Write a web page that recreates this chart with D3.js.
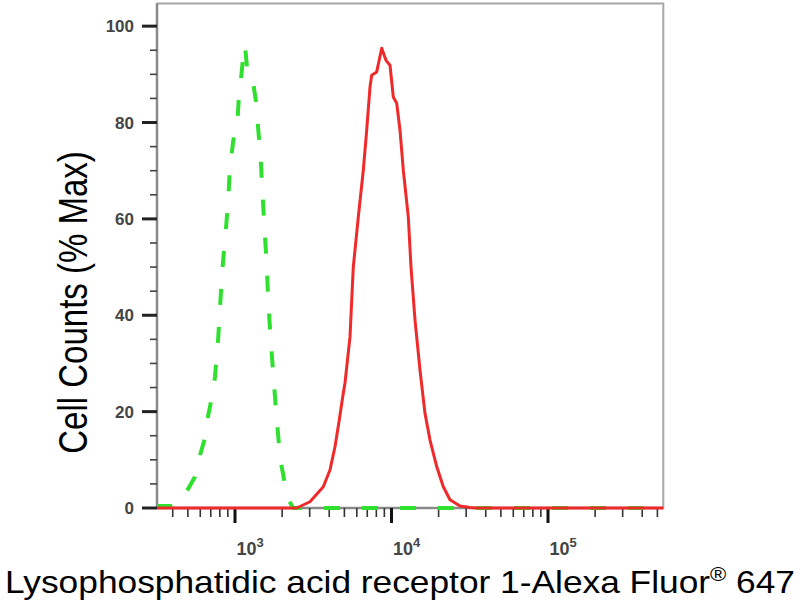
<!DOCTYPE html>
<html>
<head>
<meta charset="utf-8">
<script src="https://cdn.jsdelivr.net/npm/d3@7/dist/d3.min.js"></script>
<style>
  html, body { margin: 0; padding: 0; background: #fff; }
  svg { display: block; }
  text { font-family: "Liberation Sans", Arial, sans-serif; }
</style>
</head>
<body>
<svg id="chart" width="800" height="600"></svg>
<script>
// ---- data ----
const greenX = [320, 394, 445, 491, 555, 598, 643, 675, 710, 745, 782, 822, 842, 863, 906, 920, 939, 975, 1034, 1056, 1087, 1120, 1158, 1198, 1247, 1303, 1362, 1388, 1430, 1459, 1503, 1555, 1594, 1632, 1716, 1801, 1847, 1891, 1939, 2035, 2140, 2358, 545000];
const greenY = [0.4, 0.4, 1.2, 3.4, 6.5, 11, 14.5, 19.3, 22.8, 27.2, 35.5, 47.3, 51.8, 55.6, 63.9, 68.4, 71.8, 76.3, 79.8, 84.6, 88.4, 92.6, 96, 90.9, 88.8, 88.5, 84.3, 80.9, 76, 72.5, 64.6, 56.3, 50.8, 42.5, 32.1, 23.1, 18.3, 14.8, 10.3, 6.8, 2.3, 0, 0];

const redX = [318, 2479, 3014, 3666, 4046, 4355, 4640, 4879, 5047, 5429, 5700, 6137, 6604, 6943, 7289, 7474, 8043, 8658, 9223, 9782, 10268, 10794, 11333, 11898, 12804, 13324, 14134, 15211, 16375, 17620, 19448, 21428, 23645, 27400, 31740, 35180, 545000];
const redY = [0, 0, 1.3, 4.4, 7.9, 12.7, 18.3, 23.1, 26, 35.5, 50, 60.4, 70.1, 78.4, 87.4, 89.8, 90.5, 95.4, 92.9, 91.9, 85.3, 84, 78.4, 70.1, 60.4, 50, 39, 28.6, 19.6, 14.1, 8.6, 4.4, 1.7, 0.4, 0.1, 0, 0];

const yMajorTicks = [0, 20, 40, 60, 80, 100];
const yMinorTicks = [5, 10, 15, 25, 30, 35, 45, 50, 55, 65, 70, 75, 85, 90, 95];
const xMajorTicks = [1e3, 1e4, 1e5];
const xMajorExp = ["3", "4", "5"];
const xMinorTicks = [400, 500, 600, 700, 800, 900,
                     2000, 3000, 4000, 5000, 6000, 7000, 8000, 9000,
                     20000, 30000, 40000, 50000, 60000, 70000, 80000, 90000,
                     200000, 300000, 400000, 500000];
const xTitle = "Lysophosphatidic acid receptor 1-Alexa Fluor";
const xTitleTail = " 647";
const yTitle = "Cell Counts (% Max)";

// ---- layout ----
const L = 157, R = 663.3, T = 3.5, B = 508;
const svg = d3.select("#chart");

const x = d3.scaleLog().domain([317.4, 545400]).range([L, R]);
const y = d3.scaleLinear().domain([0, 104.7]).range([B, T]);

// frame
svg.append("rect")
  .attr("x", L).attr("y", T).attr("width", R - L).attr("height", B - T)
  .attr("fill", "none").attr("stroke", "#a8a8a8").attr("stroke-width", 2);

// left & bottom axis lines
svg.append("line").attr("x1", L).attr("x2", L).attr("y1", T).attr("y2", B + 1)
  .attr("stroke", "#8a8a8a").attr("stroke-width", 2.5);
svg.append("line").attr("x1", L).attr("x2", R).attr("y1", B).attr("y2", B)
  .attr("stroke", "#8a8a8a").attr("stroke-width", 2.5);

// y axis ticks
const gy = svg.append("g");
gy.selectAll("line.maj").data(yMajorTicks).join("line")
  .attr("x1", 142).attr("x2", L).attr("y1", d => y(d)).attr("y2", d => y(d))
  .attr("stroke", "#222").attr("stroke-width", 3);
gy.selectAll("line.min").data(yMinorTicks).join("line")
  .attr("x1", 150).attr("x2", L).attr("y1", d => y(d)).attr("y2", d => y(d))
  .attr("stroke", "#444").attr("stroke-width", 1.6);
gy.selectAll("text").data(yMajorTicks).join("text")
  .attr("x", 134).attr("y", d => y(d) + 6)
  .attr("text-anchor", "end").attr("font-size", 17).attr("font-weight", "bold")
  .attr("fill", "#444")
  .text(d => d);

// x axis ticks
const gx = svg.append("g");
gx.selectAll("line.min").data(xMinorTicks).join("line")
  .attr("x1", d => x(d)).attr("x2", d => x(d)).attr("y1", B).attr("y2", 517)
  .attr("stroke", "#333").attr("stroke-width", 1.6);
gx.selectAll("line.maj").data(xMajorTicks).join("line")
  .attr("x1", d => x(d)).attr("x2", d => x(d)).attr("y1", B).attr("y2", 523)
  .attr("stroke", "#111").attr("stroke-width", 3);
const xl = gx.selectAll("text").data(xMajorTicks).join("text")
  .attr("x", d => x(d) + 1.5).attr("y", 555)
  .attr("font-size", 18).attr("font-weight", "bold").attr("fill", "#444");
xl.append("tspan").text("10");
xl.append("tspan").attr("dy", -8).attr("font-size", 13).text((d, i) => xMajorExp[i]);

// curves
const line = d3.line().x(d => x(d[0])).y(d => y(d[1]));
svg.append("path")
  .datum(greenX.map((v, i) => [v, greenY[i]]))
  .attr("d", line)
  .attr("fill", "none").attr("stroke", "#2fe02f").attr("stroke-width", 4)
  .attr("stroke-dasharray", "16,22").attr("stroke-dashoffset", 1)
  .attr("stroke-linejoin", "round");
svg.append("path")
  .datum(redX.map((v, i) => [v, redY[i]]))
  .attr("d", line)
  .attr("fill", "none").attr("stroke", "#f02a2a").attr("stroke-width", 3)
  .attr("stroke-linejoin", "round");

// axis titles
const xt = svg.append("text")
  .attr("x", 5).attr("y", 593)
  .attr("font-size", 32).attr("fill", "#000");
xt.append("tspan").text(xTitle);
xt.append("tspan").attr("dy", -12).attr("font-size", 20).text("®");
xt.append("tspan").attr("dy", 12).text(xTitleTail);
xt.attr("textLength", 790).attr("lengthAdjust", "spacingAndGlyphs");

svg.append("text")
  .attr("transform", "translate(87,302.5) scale(1.22,1) rotate(-90)")
  .attr("text-anchor", "middle")
  .attr("font-size", 33).attr("fill", "#000")
  .text(yTitle);
</script>
</body>
</html>
